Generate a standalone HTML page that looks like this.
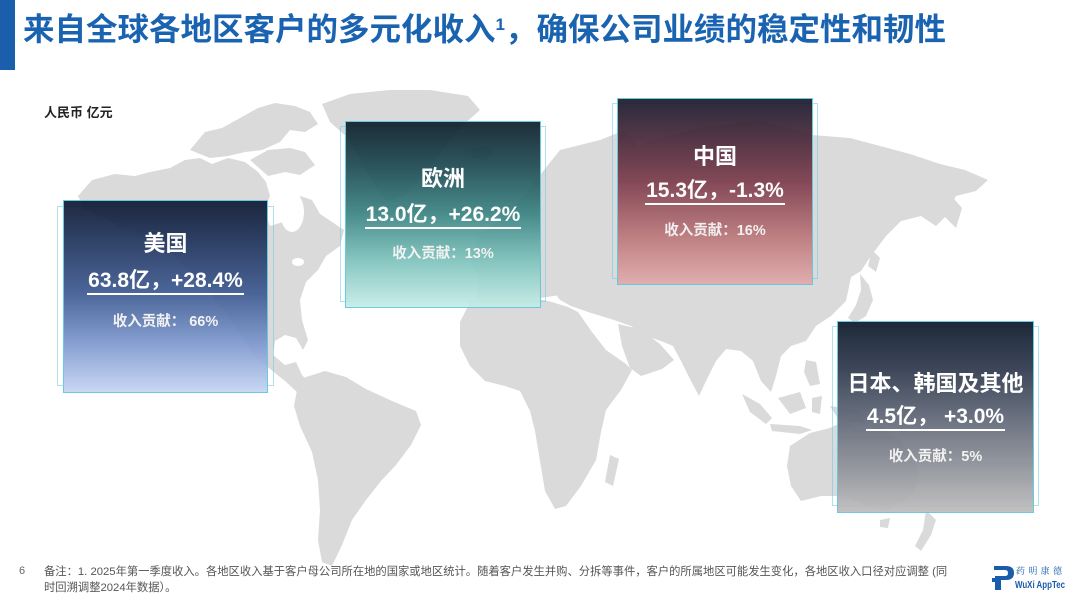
<!DOCTYPE html>
<html><head><meta charset="utf-8">
<style>
html,body{margin:0;padding:0;background:#fff;}
body{width:1080px;height:599px;position:relative;overflow:hidden;font-family:"Liberation Sans","Noto Sans CJK SC",sans-serif;}
.bar{position:absolute;left:0;top:0;width:15px;height:70px;background:#1b5eab;}
.title{position:absolute;left:23px;top:11px;font-size:31.5px;line-height:36px;font-weight:bold;color:#1a63b0;white-space:nowrap;font-family:"Liberation Sans","Noto Sans CJK SC",sans-serif;}
.title sup{font-size:17px;vertical-align:top;position:relative;top:-4px;}
.unit{position:absolute;left:44px;top:102px;font-size:13px;font-weight:bold;color:#222;}
svg.map{position:absolute;left:0;top:0;}
.box{position:absolute;border:1.5px solid #5fc6df;box-sizing:border-box;color:#fff;text-align:center;opacity:0.93;}
.frame{position:absolute;border:1px solid rgba(110,200,228,0.55);box-sizing:border-box;}
.box .t{position:absolute;left:0;right:0;font-size:22px;font-weight:bold;line-height:24px;}
.box .v{position:absolute;left:0;right:0;font-size:21px;font-weight:bold;line-height:24px;}
.box .v span{border-bottom:2px solid #fff;padding:0 1px 1px;}
.box .c{position:absolute;left:0;right:0;font-size:14.5px;font-weight:bold;line-height:18px;color:#f2f2f2;}
.us{left:63px;top:200px;width:205px;height:193px;background:linear-gradient(to bottom,#0e1933 0%,#22365f 22%,#3f5b92 48%,#7f99cf 75%,#c6d5f3 100%);}
.eu{left:345px;top:121px;width:196px;height:187px;background:linear-gradient(to bottom,#0e1f2b 0%,#1f4d55 25%,#3c8584 50%,#7fc3bd 75%,#c6ede8 100%);}
.cn{left:617px;top:98px;width:196px;height:187px;background:linear-gradient(to bottom,#191b2d 0%,#4a2a3b 22%,#7e3e4e 45%,#b77478 72%,#e2abab 100%);}
.jp{left:837px;top:321px;width:197px;height:192px;background:linear-gradient(to bottom,#0d192b 0%,#2f3a4d 25%,#5f6676 50%,#8d9098 75%,#bdbdbd 100%);}
.foot{position:absolute;left:44px;top:564px;font-size:11.3px;line-height:16px;color:#555;white-space:nowrap;font-family:"Liberation Sans","Noto Sans CJK SC",sans-serif;}
.pg{position:absolute;left:19px;top:565px;font-size:11px;color:#666;}
.logo{position:absolute;left:992px;top:562px;width:80px;height:32px;}
</style></head>
<body>
<svg class="map" width="1080" height="599" viewBox="0 0 1080 599">
<g fill="#dadada">
<path d="M78,196 L92,180 L115,174 L135,176 L150,172 L170,168 L185,160 L200,158 L212,164 L228,158 L245,162 L258,172 L266,182 L270,196 L264,210 L270,226 L283,222 L290,206 L300,196 L312,200 L320,214 L332,222 L344,230 L340,246 L326,256 L318,270 L306,282 L300,300 L302,320 L308,340 L303,350 L296,338 L285,335 L275,341 L273,355 L285,365 L296,362 L302,375 L311,385 L320,396 L324,402 L313,401 L298,393 L285,381 L270,369 L255,356 L240,336 L225,312 L210,292 L190,272 L170,252 L150,237 L120,227 L100,216 L85,210 Z"/>
<path d="M190,150 L205,132 L222,128 L240,118 L258,108 L275,103 L295,106 L310,112 L318,124 L305,132 L290,130 L280,142 L262,150 L245,152 L228,156 L210,158 Z"/>
<path d="M250,160 L268,150 L290,148 L305,152 L315,165 L300,175 L285,172 L268,176 Z"/>
<path d="M322,104 L350,94 L390,90 L430,90 L468,96 L480,110 L462,126 L442,150 L424,175 L404,196 L388,202 L376,188 L362,162 L348,138 L330,122 Z"/>
<path d="M470,150 L485,146 L495,152 L485,160 L472,158 Z"/>
<path d="M303,378 L325,371 L346,377 L366,389 L392,401 L416,411 L421,425 L411,445 L396,465 L381,481 L366,500 L352,520 L342,545 L332,566 L322,562 L318,540 L320,510 L318,480 L312,452 L300,426 L294,406 L297,390 Z"/>
<path d="M475,300 L480,280 L470,260 L480,235 L500,220 L520,200 L540,175 L560,150 L600,140 L625,130 L640,150 L620,200 L600,250 L580,280 L560,295 L540,298 L515,296 Z"/>
<path d="M470,302 L500,294 L530,297 L552,302 L568,307 L578,312 L592,332 L606,350 L626,364 L632,370 L621,390 L606,410 L601,432 L596,460 L581,486 L566,506 L555,509 L545,491 L540,461 L535,431 L530,411 L520,391 L505,386 L485,381 L470,366 L460,346 L460,322 Z"/>
<path d="M610,455 L619,459 L613,486 L605,482 Z"/>
<path d="M560,300 L545,280 L560,240 L590,200 L620,160 L650,140 L700,128 L760,120 L812,135 L850,138 L880,146 L910,154 L940,164 L965,170 L988,180 L976,191 L956,196 L946,216 L936,226 L921,216 L901,221 L886,236 L871,256 L861,271 L851,277 L846,301 L831,316 L816,326 L806,341 L791,346 L781,356 L776,376 L771,392 L761,381 L753,361 L741,351 L726,349 L716,361 L706,381 L699,396 L691,381 L681,361 L673,346 L661,341 L646,336 L631,326 L611,319 L591,313 L571,306 Z"/>
<path d="M618,324 L640,329 L660,344 L674,360 L662,369 L641,376 L630,368 L622,346 Z"/>
<path d="M860,274 L869,285 L873,300 L866,316 L855,323 L848,318 L856,305 L861,290 Z"/>
<path d="M872,250 L880,258 L876,272 L868,266 Z"/>
<path d="M948,192 L962,208 L956,228 L944,216 Z"/>
<path d="M806,360 L816,362 L820,384 L810,386 L804,372 Z"/>
<path d="M742,394 L760,404 L772,418 L766,424 L750,412 Z"/>
<path d="M770,424 L800,426 L812,430 L800,434 L772,431 Z"/>
<path d="M778,398 L800,392 L806,408 L790,414 Z"/>
<path d="M812,398 L822,396 L820,414 L812,412 Z"/>
<path d="M830,406 L858,410 L866,424 L840,422 Z"/>
<path d="M790,446 L810,433 L830,428 L846,420 L861,431 L881,426 L901,441 L916,461 L919,481 L906,501 L886,511 L866,506 L846,496 L821,496 L801,501 L791,486 L787,466 Z"/>
<path d="M880,520 L890,518 L888,528 L880,527 Z"/>
<path d="M926,510 L936,520 L931,535 L921,551 L915,546 L923,530 Z"/>
</g>
<g fill="#fff">
<ellipse cx="292" cy="212" rx="12" ry="20"/>
<ellipse cx="298" cy="262" rx="6" ry="4"/>
</g>
</svg>

<div class="bar"></div>
<div class="title">来自全球各地区客户的多元化收入<sup>1</sup>，确保公司业绩的稳定性和韧性</div>
<div class="unit">人民币 亿元</div>

<div class="frame" style="left:57px;top:206px;width:217px;height:180px;"></div>
<div class="box us">
  <div class="t" style="top:31px;">美国</div>
  <div class="v" style="top:68px;"><span>63.8亿，+28.4%</span></div>
  <div class="c" style="top:112px;">收入贡献： 66%</div>
</div>

<div class="frame" style="left:340px;top:126px;width:206px;height:176px;"></div>
<div class="box eu">
  <div class="t" style="top:45px;">欧洲</div>
  <div class="v" style="top:81px;"><span>13.0亿，+26.2%</span></div>
  <div class="c" style="top:123px;">收入贡献：13%</div>
</div>

<div class="frame" style="left:612px;top:103px;width:206px;height:176px;"></div>
<div class="box cn">
  <div class="t" style="top:46px;">中国</div>
  <div class="v" style="top:80px;"><span>15.3亿，-1.3%</span></div>
  <div class="c" style="top:123px;">收入贡献：16%</div>
</div>

<div class="frame" style="left:832px;top:326px;width:207px;height:180px;"></div>
<div class="box jp">
  <div class="t" style="top:50px;">日本、韩国及其他</div>
  <div class="v" style="top:83px;"><span>4.5亿， +3.0%</span></div>
  <div class="c" style="top:126px;">收入贡献：5%</div>
</div>

<div class="pg">6</div>
<div class="foot">备注：1. 2025年第一季度收入。各地区收入基于客户母公司所在地的国家或地区统计。随着客户发生并购、分拆等事件，客户的所属地区可能发生变化，各地区收入口径对应调整 (同<br>时回溯调整2024年数据）。</div>

<div class="logo">
<svg width="80" height="32" viewBox="0 0 80 32">
  <path d="M2,4 L14,4 Q22,4 22,11 Q22,18 14,18 L9,18 L9,28 L3,28 L3,14 L13,14 Q16,14 16,11 Q16,8 13,8 L2,8 Z" fill="#1a5cab"/>
  <path d="M0,16 L8,16 L8,20 L0,20 Z" fill="#1a5cab"/>
  <text x="24" y="12" font-size="9" fill="#1a5cab" font-family="Noto Serif CJK SC, serif" textLength="46" lengthAdjust="spacing">药明康德</text>
  <text x="23" y="26" font-size="10" font-weight="bold" fill="#1a5cab" font-family="Liberation Sans, sans-serif" textLength="50" lengthAdjust="spacingAndGlyphs">WuXi AppTec</text>
</svg>
</div>
</body></html>
